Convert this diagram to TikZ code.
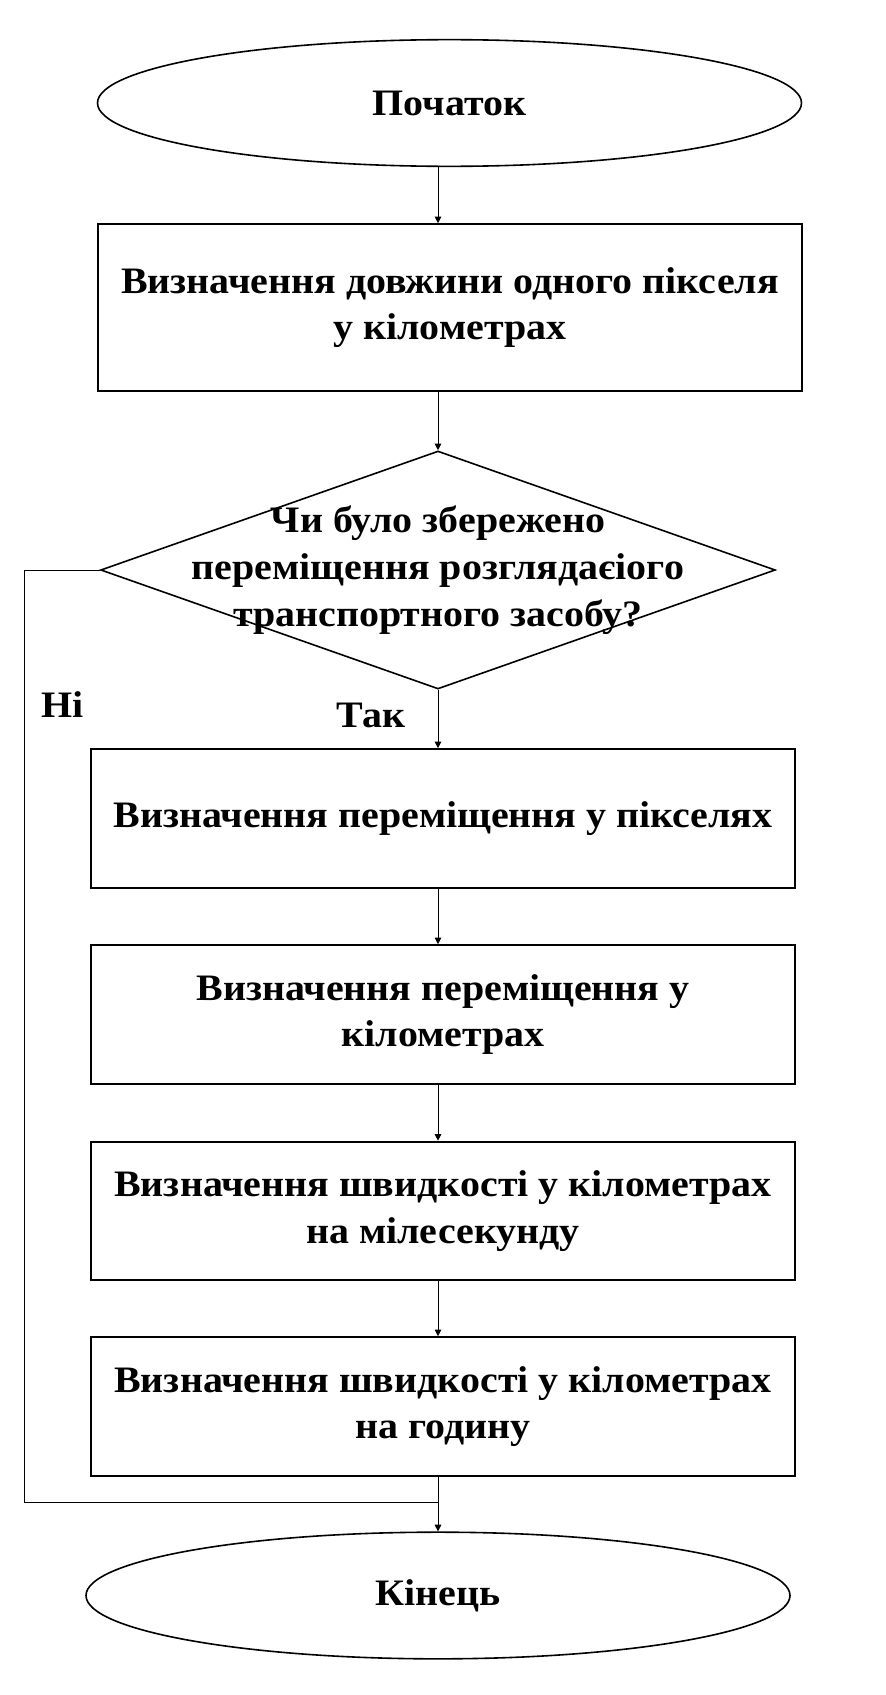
\documentclass[tikz,border=0pt]{standalone}
\usepackage{fontspec}
\setmainfont[FakeStretch=1.07]{Liberation Serif}
\usetikzlibrary{shapes.geometric}
\usetikzlibrary{arrows.meta}

\tikzset{
	napys/.style={font=\fontsize{28}{35}\selectfont\bfseries, align=center},
	blok/.style={rectangle, draw, line width=1.5pt, minimum width=528pt, minimum height=104pt, inner sep=0pt, napys},
	term/.style={ellipse, draw, line width=1.2pt, minimum width=528pt, minimum height=95pt, inner sep=0pt, napys},
	strilka/.style={-{Triangle[length=5pt,width=5pt]}, line width=0.75pt}
}

\begin{document}
\begin{tikzpicture}[x=0.75pt, y=-0.75pt]
			\useasboundingbox (0,0) rectangle (885,1695);
			\node[term] (poch) at (449.5,103) {Початок};
			\node[blok, minimum height=125pt] (b1) at (450,307.5) {Визначення довжини одного пікселя\\у кілометрах};
			\node[diamond, draw, line width=1.2pt, minimum width=506pt, minimum height=178.5pt, inner sep=0pt] (dec) at (438,570) {};
			\node[napys] (pyt) at (dec.center) {Чи було збережено\\переміщення розглядаєіого\\транспортного засобу?};
			\node[blok] (b2) at (443,818.5) {Визначення переміщення у пікселях};
			\node[blok] (b3) at (443,1014.5) {Визначення переміщення у\\кілометрах};
			\node[blok] (b4) at (443,1211) {Визначення швидкості у кілометрах\\на мілесекунду};
			\node[blok] (b5) at (443,1406.5) {Визначення швидкості у кілометрах\\на годину};
			\node[term] (kin) at (438,1595.5) {Кінець};
			\node[napys] (ni) at (63,705) {Ні};
			\node[napys] (tak) at (371,715) {Так};
			\coordinate (vlivo) at (24,1502);
			\coordinate (zlyv) at (438,1502);
			\draw[strilka] (dec |- poch.south) -- (dec |- b1.north);
			\draw[strilka] (dec |- b1.south) -- (dec.north);
			\draw[strilka] (dec.south) -- (dec |- b2.north);
			\draw[strilka] (dec |- b2.south) -- (dec |- b3.north);
			\draw[strilka] (dec |- b3.south) -- (dec |- b4.north);
			\draw[strilka] (dec |- b4.south) -- (dec |- b5.north);
			\draw[strilka] (dec |- b5.south) -- (kin.north);
			\draw[line width=0.75pt] (dec.west) -| (vlivo) -- (zlyv);
		\end{tikzpicture}
\end{document}
